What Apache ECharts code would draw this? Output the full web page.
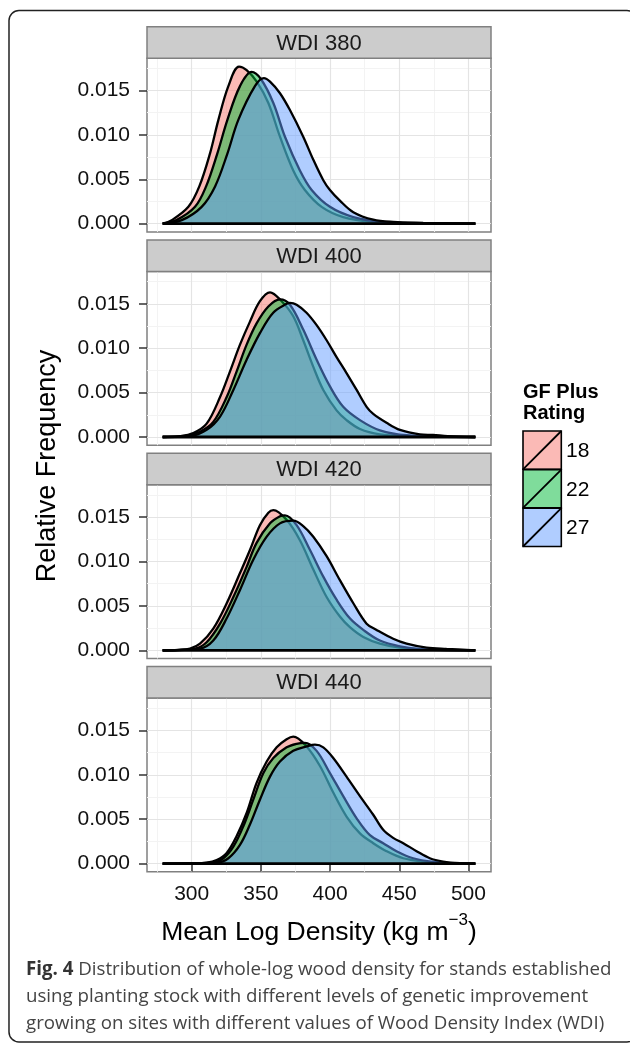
<!DOCTYPE html>
<html><head><meta charset="utf-8">
<script src="https://cdn.jsdelivr.net/npm/echarts@6/dist/echarts.min.js"></script>
<style>html,body{margin:0;padding:0;background:#fff}#c{width:630px;height:1044px}</style>
</head><body><div id="c"></div>
<script>
// ---------- data ----------
const panels = ['WDI 380', 'WDI 400', 'WDI 420', 'WDI 440'];
const groups = ['18', '22', '27'];
const colors = ['#F8766D', '#00BA38', '#619CFF'];
const xTicks = [300, 350, 400, 450, 500];
const xMinor = [275, 325, 375, 425, 475];
const yTicks = [0, 0.005, 0.010, 0.015];
const yMinor = [0.0025, 0.0075, 0.0125, 0.0175];

const wdi380_18 = [[279,0],[285.6,0.0004],[297.6,0.0019],[305.5,0.0042],[313.2,0.0079],[319.3,0.0117],[326.5,0.0155],[334.2,0.0177],[339.7,0.0173],[347,0.0160],[355.4,0.0136],[363.8,0.0098],[373.4,0.0060],[381.8,0.0038],[393.9,0.0019],[409.5,0.00075],[431.2,0.0002],[460,0.00003],[505,0]];
const wdi380_22 = [[279,0],[289,0.0004],[302.4,0.0019],[310.4,0.0042],[318.5,0.0079],[325.8,0.0117],[334.9,0.0155],[343.3,0.0171],[350,0.0163],[359,0.0136],[367.4,0.0098],[378.2,0.0060],[386.7,0.0038],[399.9,0.0019],[416.8,0.00075],[438.4,0.0002],[470,0.00003],[505,0]];
const wdi380_27 = [[279,0],[292.8,0.0004],[307.2,0.0019],[316.9,0.0042],[325.8,0.0079],[333.7,0.0117],[345.7,0.0155],[352.2,0.0164],[356.6,0.0160],[363.8,0.0147],[371,0.0128],[380.6,0.0098],[387.9,0.0072],[395.1,0.0049],[399.9,0.0038],[407.1,0.0026],[416.8,0.0013],[431.2,0.00045],[445.6,0.0002],[467.3,0.0001],[505,0]];

const wdi400_18 = [[279,0],[291.6,0.0001],[301.2,0.00045],[310.8,0.0015],[320.5,0.0045],[327.7,0.0074],[334.9,0.0104],[342.1,0.0130],[349.3,0.0153],[356.6,0.0163],[365,0.0153],[373.4,0.0136],[380.6,0.0109],[387.9,0.0079],[395.1,0.0053],[404.7,0.0030],[411.9,0.0019],[421.6,0.0009],[436,0.0003],[455.3,0.0001],[505,0]];
const wdi400_22 = [[279,0],[295.2,0.0001],[306,0.0006],[315.6,0.0017],[325.3,0.0045],[332.5,0.0074],[339.7,0.0104],[346.9,0.0128],[355.4,0.0147],[363.8,0.0155],[371,0.0149],[380.6,0.0121],[390.3,0.0087],[399.9,0.0057],[409.5,0.0034],[421.6,0.0019],[436,0.00075],[455.3,0.0002],[505,0]];
const wdi400_27 = [[279,0],[298.8,0.0001],[310.8,0.0008],[320.5,0.0023],[330.1,0.0053],[339.7,0.0087],[349.3,0.0117],[358.9,0.0140],[368.6,0.0150],[371,0.0151],[375.8,0.0149],[383,0.0140],[390.3,0.0126],[397.5,0.0109],[404.7,0.0090],[411.9,0.0072],[419.2,0.0053],[426.4,0.0034],[431.2,0.0026],[440.8,0.0016],[450.5,0.0008],[464.9,0.0003],[474.5,0.00023],[485,0.0001],[505,0]];

const wdi420_18 = [[279,0],[290,0.00005],[298.8,0.0002],[306,0.00075],[315.6,0.00245],[325.3,0.0053],[334.9,0.0087],[342.1,0.0113],[349.3,0.0141],[355.4,0.0155],[359,0.0158],[368.6,0.0147],[378.2,0.0124],[387.9,0.0091],[397.5,0.0060],[407.1,0.0038],[414.3,0.0026],[424,0.0015],[436,0.00075],[450.5,0.0003],[467.3,0.0001],[505,0]];
const wdi420_22 = [[279,0],[302.4,0.0002],[310.8,0.0009],[320.5,0.0030],[330.1,0.0060],[339.7,0.0094],[346.9,0.0121],[356.6,0.0143],[363.8,0.0151],[367.4,0.0152],[375.8,0.0141],[385.5,0.0113],[395.1,0.0083],[404.7,0.0057],[414.3,0.0036],[424,0.0023],[436,0.0011],[450.5,0.00045],[467.3,0.0001],[505,0]];
const wdi420_27 = [[279,0],[306,0.0002],[315.6,0.0011],[325.3,0.0036],[334.9,0.0068],[344.5,0.0102],[354.2,0.0128],[363.8,0.0143],[373.4,0.0146],[380.6,0.0140],[387.9,0.0128],[397.5,0.0106],[407.1,0.0079],[416.8,0.0053],[426.4,0.0030],[433.6,0.0023],[445.6,0.0013],[455.3,0.00075],[469.7,0.0003],[484.2,0.00015],[505,0]];

const wdi440_18 = [[279,0],[300,0.00002],[310.8,0.0001],[318.1,0.0004],[325.3,0.0012],[332.5,0.0031],[339.7,0.0057],[346.9,0.0091],[354.2,0.0115],[361.4,0.0131],[368.6,0.0140],[373.4,0.0143],[383,0.0132],[392.7,0.0110],[402.3,0.0080],[411.9,0.0053],[421.6,0.0034],[431.2,0.0023],[440.8,0.0014],[452.9,0.0006],[467.3,0.00023],[484.2,0.00004],[505,0]];
const wdi440_22 = [[279,0],[314.4,0.0001],[322.9,0.0006],[330.1,0.0019],[337.3,0.0042],[344.5,0.0072],[351.8,0.0102],[359,0.0119],[368.6,0.0131],[375.8,0.0135],[381.8,0.0136],[390.3,0.0127],[399.9,0.0102],[409.5,0.0076],[419.2,0.0051],[428.8,0.0032],[438.4,0.0023],[448,0.0014],[460.1,0.0006],[474.5,0.0002],[491.4,0.00004],[505,0]];
const wdi440_27 = [[279,0],[318.1,0.0001],[326.5,0.0006],[334.9,0.0021],[342.1,0.0044],[349.3,0.0072],[356.6,0.0098],[363.8,0.0115],[373.4,0.0127],[383,0.0132],[389.1,0.0134],[395.1,0.0131],[402.3,0.0119],[411.9,0.0098],[421.6,0.0076],[431.2,0.0055],[438.4,0.0038],[445.6,0.0029],[452.9,0.0023],[462.5,0.0014],[472.1,0.0006],[481.7,0.00023],[493.8,0.00004],[505,0]];

const panelData = [
  [wdi380_18, wdi380_22, wdi380_27],
  [wdi400_18, wdi400_22, wdi400_27],
  [wdi420_18, wdi420_22, wdi420_27],
  [wdi440_18, wdi440_22, wdi440_27]
];

const xTitle = 'Mean Log Density (kg m';
const xTitleSup = '\u22123';
const yTitle = 'Relative Frequency';
const legendTitle = ['GF Plus', 'Rating'];
const captionBold = 'Fig. 4';
const captionLines = [
  ' Distribution of whole-log wood density for stands established',
  'using planting stock with different levels of genetic improvement',
  'growing on sites with different values of Wood Density Index (WDI)'
];

// ---------- layout ----------
const FONT = 'Liberation Sans, Arial, Helvetica, sans-serif';
const CAPFONT = 'Open Sans, Noto Sans, sans-serif';
const L = 147, W = 344, STRIP_TOP = 26.7, STRIP_H = 31.5, PLOT_H = 173.7, PITCH = 213.3;

// scale ranges (ggplot-style 5% expansion)
let allX = [], allY = [];
panelData.forEach(p => p.forEach(s => s.forEach(d => { allX.push(d[0]); allY.push(d[1]); })));
const xLo = Math.min(...allX), xHi = Math.max(...allX);
const yLo = 0, yHi = Math.max(...allY);
const xMin = xLo - 0.05 * (xHi - xLo), xMax = xHi + 0.05 * (xHi - xLo);
const yMin = yLo - 0.05 * (yHi - yLo) - 0.00004, yMax = yHi + 0.05 * (yHi - yLo) + 0.00006;

const grids = [], xAxes = [], yAxes = [], series = [], graphics = [];
const tickStyle = { color: '#333', width: 1.5 };
const majorGrid = { color: '#E4E4E4', width: 1.2 };
const minorGrid = { color: '#F3F3F3', width: 1 };

panels.forEach((name, i) => {
  const top = STRIP_TOP + PITCH * i + STRIP_H;
  grids.push({ left: L, top: top, width: W, height: PLOT_H, show: true, borderColor: '#808080', borderWidth: 1.5, backgroundColor: '#fff', outerBoundsMode: 'none', containLabel: false });
  const isBottom = i === panels.length - 1;
  xAxes.push({ gridIndex: i, type: 'value', min: xMin, max: xMax, axisLine: { show: false },
    axisTick: { show: isBottom, customValues: xTicks, length: 8, lineStyle: tickStyle },
    axisLabel: { show: isBottom, customValues: xTicks, margin: 12, fontSize: 21, color: '#111', fontFamily: FONT },
    splitLine: { show: true, lineStyle: majorGrid }, z: 1 });
  xAxes.push({ gridIndex: i, type: 'value', min: xMin, max: xMax, axisLine: { show: false },
    axisTick: { show: false, customValues: xMinor }, axisLabel: { show: false, customValues: xMinor },
    splitLine: { show: true, lineStyle: minorGrid }, z: 0 });
  yAxes.push({ gridIndex: i, type: 'value', min: yMin, max: yMax, axisLine: { show: false },
    axisTick: { show: true, customValues: yTicks, length: 8, lineStyle: tickStyle },
    axisLabel: { show: true, customValues: yTicks, margin: 17, fontSize: 21, color: '#111', fontFamily: FONT, formatter: v => v.toFixed(3) },
    splitLine: { show: true, lineStyle: majorGrid }, z: 1 });
  yAxes.push({ gridIndex: i, type: 'value', min: yMin, max: yMax, axisLine: { show: false },
    axisTick: { show: false, customValues: yMinor }, axisLabel: { show: false, customValues: yMinor },
    splitLine: { show: true, lineStyle: minorGrid }, z: 0 });

  panelData[i].forEach((arr, g) => {
    series.push({ name: groups[g], type: 'line', xAxisIndex: 2 * i, yAxisIndex: 2 * i, data: arr,
      smooth: 0.35, showSymbol: false, symbol: 'none', clip: true,
      lineStyle: { color: '#000', width: 2.3 }, itemStyle: { color: colors[g] },
      areaStyle: { color: colors[g], opacity: 0.5 }, z: 3 + g });
  });
  const px = [];
  panelData[i].forEach(arr => arr.forEach(d => px.push(d[0])));
  series.push({ name: 'baseline', type: 'line', xAxisIndex: 2 * i, yAxisIndex: 2 * i,
    data: [[Math.min(...px), 0], [Math.max(...px), 0]], showSymbol: false, symbol: 'none',
    lineStyle: { color: '#000', width: 2.8 }, z: 7 });

  graphics.push({ type: 'rect', shape: { x: L, y: STRIP_TOP + PITCH * i, width: W, height: STRIP_H },
    style: { fill: '#CCCCCC', stroke: '#808080', lineWidth: 1.5 }, z: 10 });
  graphics.push({ type: 'text', x: L + W / 2, y: STRIP_TOP + PITCH * i + STRIP_H / 2 + 1,
    style: { text: name, fontSize: 22, fontFamily: FONT, fill: '#1a1a1a', align: 'center', verticalAlign: 'middle' }, z: 11 });
});

graphics.push({ type: 'text', x: 48, y: 466, rotation: Math.PI / 2,
  style: { text: yTitle, fontSize: 27, fontFamily: FONT, fill: '#000', align: 'center', verticalAlign: 'middle' }, z: 11 });
graphics.push({ type: 'text', x: L + W / 2, y: 929,
  style: { text: '{t|' + xTitle + '}{s|' + xTitleSup + '}{t|)}', align: 'center', verticalAlign: 'middle',
    rich: { t: { fontSize: 26.5, fontFamily: FONT, fill: '#000', lineHeight: 34, verticalAlign: 'bottom' },
            s: { fontSize: 17, fontFamily: FONT, fill: '#000', lineHeight: 16, verticalAlign: 'top' } } }, z: 11 });

legendTitle.forEach((t, k) => {
  graphics.push({ type: 'text', x: 523, y: 392 + 21.5 * k,
    style: { text: t, fontSize: 20, fontWeight: 'bold', fontFamily: FONT, fill: '#000', align: 'left', verticalAlign: 'middle' }, z: 11 });
});
groups.forEach((gname, k) => {
  const ky = 431 + 38.6 * k, ks = 38.3;
  graphics.push({ type: 'rect', shape: { x: 523, y: ky, width: ks, height: ks },
    style: { fill: colors[k], opacity: 0.5 }, z: 11 });
  graphics.push({ type: 'rect', shape: { x: 523, y: ky, width: ks, height: ks },
    style: { fill: 'none', stroke: '#000', lineWidth: 1.6 }, z: 12 });
  graphics.push({ type: 'line', shape: { x1: 523, y1: ky + ks, x2: 523 + ks, y2: ky },
    style: { stroke: '#000', lineWidth: 1.8 }, z: 12 });
  graphics.push({ type: 'text', x: 566, y: ky + ks / 2 + 1,
    style: { text: gname, fontSize: 21, fontFamily: FONT, fill: '#000', align: 'left', verticalAlign: 'middle' }, z: 11 });
});

graphics.push({ type: 'text', x: 26, y: 970,
  style: { text: '{b|' + captionBold + '}{r|' + captionLines[0] + '}', verticalAlign: 'middle', align: 'left',
    rich: { b: { fontSize: 18.7, fontWeight: 'bold', fontFamily: CAPFONT, fill: '#333' },
            r: { fontSize: 18.7, fontFamily: CAPFONT, fill: '#444' } } }, z: 11 });
captionLines.slice(1).forEach((line, k) => {
  graphics.push({ type: 'text', x: 26, y: 997 + 26.5 * k,
    style: { text: line, fontSize: 18.7, fontFamily: CAPFONT, fill: '#444', align: 'left', verticalAlign: 'middle' }, z: 11 });
});
graphics.push({ type: 'rect', shape: { x: 9, y: 10.5, width: 628, height: 1031.5, r: 10 },
  style: { fill: 'none', stroke: '#222', lineWidth: 1.5 }, z: 20 });

const chart = echarts.init(document.getElementById('c'), null, { renderer: 'canvas' });
chart.setOption({
  animation: false,
  backgroundColor: '#fff',
  grid: grids, xAxis: xAxes, yAxis: yAxes, series: series, graphic: graphics
});
</script></body></html>
